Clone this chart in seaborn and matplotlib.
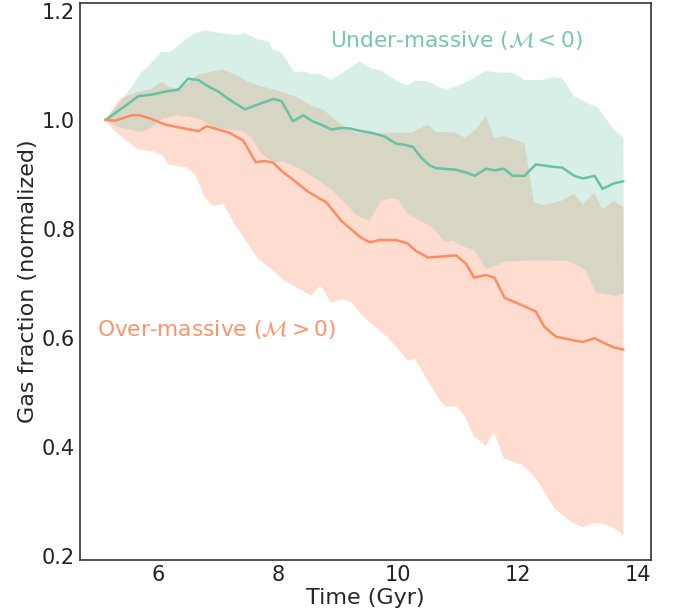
import numpy as np
import pandas as pd
import matplotlib
matplotlib.use("Agg")
import matplotlib.pyplot as plt
import seaborn as sns

# ---- data ----
under_t = [5.12, 5.45, 5.67, 5.90, 6.14, 6.34, 6.50, 6.67, 6.84, 7.00, 7.23, 7.45, 7.67, 7.92,
           8.06, 8.25, 8.42, 8.58, 8.72, 8.89, 9.06, 9.19, 9.39, 9.56, 9.78, 9.97, 10.11, 10.25,
           10.39, 10.53, 10.64, 10.97, 11.14, 11.28, 11.47, 11.61, 11.77, 11.91, 12.11, 12.30,
           12.55, 12.74, 12.94, 13.08, 13.28, 13.41, 13.60, 13.76]
under_y = [1.000, 1.026, 1.044, 1.047, 1.053, 1.056, 1.076, 1.074, 1.062, 1.053, 1.035, 1.020,
           1.029, 1.039, 1.035, 0.998, 1.009, 0.998, 0.992, 0.983, 0.986, 0.985, 0.980, 0.977,
           0.970, 0.957, 0.955, 0.951, 0.931, 0.917, 0.912, 0.909, 0.904, 0.898, 0.911, 0.908,
           0.911, 0.898, 0.898, 0.919, 0.915, 0.913, 0.898, 0.893, 0.898, 0.874, 0.884, 0.888]

over_t = [5.12, 5.28, 5.56, 5.70, 5.90, 6.12, 6.34, 6.53, 6.68, 6.81, 7.00, 7.17, 7.42, 7.63,
          7.78, 7.92, 8.06, 8.25, 8.50, 8.81, 9.06, 9.22, 9.39, 9.53, 9.69, 9.97, 10.16, 10.30,
          10.50, 10.97, 11.14, 11.27, 11.47, 11.61, 11.78, 12.08, 12.30, 12.44, 12.63, 12.88,
          13.08, 13.28, 13.44, 13.60, 13.76]
over_y = [1.001, 0.999, 1.009, 1.009, 1.002, 0.992, 0.987, 0.983, 0.980, 0.989, 0.983, 0.978,
          0.963, 0.923, 0.925, 0.922, 0.907, 0.891, 0.869, 0.849, 0.815, 0.800, 0.784, 0.776,
          0.780, 0.780, 0.774, 0.760, 0.748, 0.752, 0.736, 0.711, 0.716, 0.711, 0.674, 0.660,
          0.649, 0.621, 0.603, 0.597, 0.593, 0.600, 0.591, 0.583, 0.579]

under_hi_t = [5.12, 5.42, 5.59, 5.70, 5.87, 6.06, 6.20, 6.42, 6.62, 6.78, 7.03, 7.28, 7.45, 7.67,
              7.84, 7.92, 8.06, 8.28, 8.42, 8.58, 8.70, 8.89, 9.03, 9.36, 9.56, 9.72, 10.00,
              10.17, 10.28, 10.50, 10.67, 10.80, 11.11, 11.47, 11.63, 11.91, 12.11, 12.41,
              12.58, 12.74, 12.94, 13.21, 13.33, 13.60, 13.76]
under_hi_y = [1.000, 1.041, 1.065, 1.085, 1.103, 1.126, 1.125, 1.145, 1.160, 1.165, 1.160, 1.156,
              1.160, 1.148, 1.145, 1.129, 1.125, 1.087, 1.090, 1.084, 1.085, 1.074, 1.084, 1.108,
              1.095, 1.091, 1.071, 1.064, 1.073, 1.071, 1.062, 1.056, 1.068, 1.091, 1.088, 1.087,
              1.074, 1.074, 1.079, 1.077, 1.044, 1.029, 1.024, 0.983, 0.968]

under_lo_t = [5.12, 5.37, 5.53, 5.73, 5.87, 5.98, 6.09, 6.31, 6.56, 6.73, 6.92, 7.17, 7.39, 7.56,
              7.73, 7.95, 8.08, 8.33, 8.61, 8.89, 9.11, 9.33, 9.53, 9.72, 9.86, 10.00, 10.17,
              10.39, 10.61, 10.78, 10.91, 11.14, 11.27, 11.47, 11.63, 11.80, 12.11, 12.44,
              12.83, 13.05, 13.13, 13.30, 13.63, 13.77]
under_lo_y = [1.000, 0.986, 0.983, 0.978, 0.985, 0.995, 1.004, 1.009, 1.005, 1.001, 0.987, 0.983,
              0.981, 0.968, 0.937, 0.922, 0.925, 0.913, 0.894, 0.873, 0.849, 0.824, 0.816, 0.852,
              0.857, 0.855, 0.827, 0.815, 0.800, 0.776, 0.779, 0.766, 0.763, 0.727, 0.733, 0.741,
              0.742, 0.743, 0.742, 0.730, 0.724, 0.684, 0.678, 0.682]

over_hi_t = [5.12, 5.37, 5.67, 5.87, 6.06, 6.20, 6.37, 6.53, 6.67, 6.84, 7.09, 7.28, 7.50, 7.73,
             7.95, 8.11, 8.28, 8.58, 8.75, 8.89, 9.06, 9.28, 9.61, 10.22, 10.50, 10.64, 10.94,
             11.11, 11.30, 11.47, 11.60, 11.77, 12.11, 12.27, 12.44, 12.72, 12.94, 13.08, 13.27,
             13.41, 13.60, 13.76]
over_hi_y = [1.000, 1.040, 1.052, 1.056, 1.071, 1.060, 1.059, 1.071, 1.084, 1.088, 1.093, 1.084,
             1.071, 1.062, 1.056, 1.050, 1.044, 1.026, 1.020, 1.007, 0.992, 0.977, 0.977, 0.977,
             0.992, 0.978, 0.978, 0.968, 0.983, 1.009, 0.967, 0.971, 0.958, 0.849, 0.844, 0.852,
             0.865, 0.845, 0.867, 0.837, 0.852, 0.841]

over_lo_t = [5.12, 5.28, 5.48, 5.67, 5.92, 6.09, 6.17, 6.48, 6.62, 6.78, 6.92, 7.09, 7.28, 7.50,
             7.67, 7.89, 8.11, 8.56, 8.71, 8.88, 9.06, 9.22, 9.39, 9.56, 9.83, 10.00, 10.17,
             10.28, 10.50, 10.72, 10.80, 10.97, 11.11, 11.27, 11.47, 11.60, 11.77, 12.08, 12.30,
             12.61, 12.88, 13.08, 13.27, 13.41, 13.60, 13.76]
over_lo_y = [1.000, 0.980, 0.962, 0.946, 0.943, 0.934, 0.919, 0.913, 0.901, 0.858, 0.843, 0.846,
             0.809, 0.773, 0.745, 0.727, 0.705, 0.678, 0.698, 0.665, 0.672, 0.666, 0.644, 0.626,
             0.602, 0.580, 0.559, 0.562, 0.522, 0.483, 0.474, 0.475, 0.458, 0.419, 0.403, 0.428,
             0.379, 0.367, 0.343, 0.288, 0.263, 0.253, 0.261, 0.260, 0.251, 0.239]

labels = ["Under-massive ($\\mathcal{M}<0$)", "Over-massive ($\\mathcal{M}>0$)"]
x_ticks = [6, 8, 10, 12, 14]
y_ticks = [0.2, 0.4, 0.6, 0.8, 1.0, 1.2]

# ---- styling ----
sns.set_style("white")
plt.rcParams.update({
    "font.family": ["DejaVu Sans"],
    "xtick.direction": "in",
    "ytick.direction": "in",
    "xtick.major.size": 4,
    "ytick.major.size": 4,
    "axes.edgecolor": "#333333",
    "axes.linewidth": 1.2,
})
teal = "#66c2a5"
orange = "#fc8d62"

fig = plt.figure(figsize=(6.75, 6.14), dpi=100)
ax = fig.add_axes([0.1185, 0.088, 0.846, 0.907])

# bands (orange first, teal on top)
ax.fill(list(over_hi_t) + list(over_lo_t)[::-1], list(over_hi_y) + list(over_lo_y)[::-1],
        color=orange, alpha=0.3, lw=0)
ax.fill(list(under_hi_t) + list(under_lo_t)[::-1], list(under_hi_y) + list(under_lo_y)[::-1],
        color=teal, alpha=0.25, lw=0)

df_u = pd.DataFrame({"t": under_t, "f": under_y})
df_o = pd.DataFrame({"t": over_t, "f": over_y})
sns.lineplot(data=df_u, x="t", y="f", color=teal, lw=1.8, ax=ax)
sns.lineplot(data=df_o, x="t", y="f", color=orange, lw=1.8, ax=ax)

ax.text(0.438, 0.932, labels[0], color=teal, alpha=0.9, fontsize=15.7,
        transform=ax.transAxes, ha="left", va="center")
ax.text(0.030, 0.414, labels[1], color=orange, alpha=0.95, fontsize=15.7,
        transform=ax.transAxes, ha="left", va="center")

ax.set_xlim(4.70, 14.22)
ax.set_ylim(0.193, 1.215)
ax.set_xticks(x_ticks)
ax.set_yticks(y_ticks)
ax.set_yticklabels([f"{v:.1f}" for v in y_ticks])
ax.tick_params(labelsize=15, colors="#333333", labelcolor="#222222", width=1)
ax.set_xlabel("Time (Gyr)", fontsize=16, labelpad=2)
ax.set_ylabel("Gas fraction (normalized)", fontsize=16, labelpad=3)

fig.savefig("out.png", dpi=100)
